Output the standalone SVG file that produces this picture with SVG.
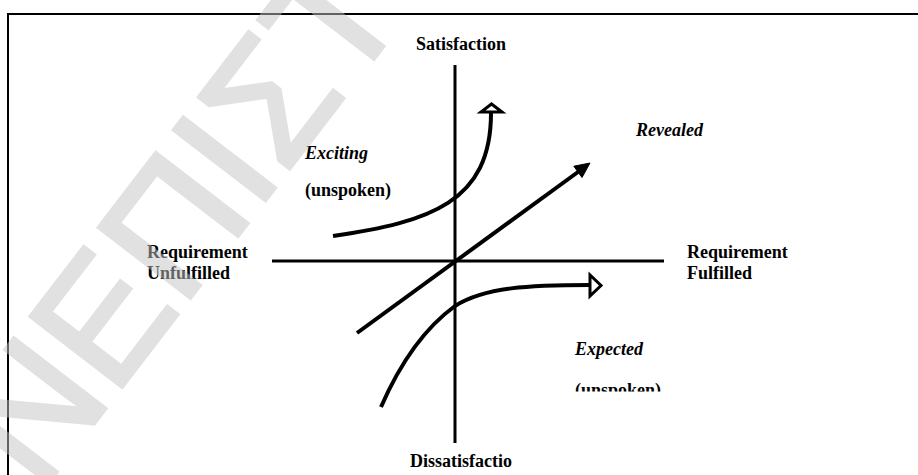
<svg xmlns="http://www.w3.org/2000/svg" width="918" height="475" viewBox="0 0 918 475">
<style>
.lbl{font-family:"Liberation Serif","Times New Roman",serif;font-size:18px;font-weight:bold;fill:#000}
.it{font-style:italic}
.axis{stroke:#000;stroke-width:3;fill:none}
.curve{stroke:#000;stroke-width:4;fill:none}
.openhead{fill:#fff;stroke:#000;stroke-width:3;stroke-linejoin:miter}
.wm{font-family:"Liberation Sans",Arial,sans-serif;font-size:168px;fill:#c4c4c4;stroke:#c4c4c4;stroke-width:4;stroke-linejoin:miter}
</style>
<defs>
<clipPath id="clipExp"><rect x="0" y="0" width="918" height="391.5"/></clipPath>
</defs>
<rect id="frame" x="8" y="14" width="930" height="480" fill="#fff" stroke="#000" stroke-width="2"/>
<g id="axes">
<line class="axis" x1="455" y1="65" x2="455" y2="443"/>
<line class="axis" x1="272" y1="261" x2="664" y2="261"/>
</g>
<g id="connectors">
<path id="exciting-curve" class="curve" d="M333,236 C430,222 491,202 491,113"/>
<polygon class="openhead" points="491.5,104 481,112 502,112"/>
<line id="revealed-line" class="curve" x1="357" y1="333" x2="578" y2="172"/>
<polygon points="590,163 582,177.5 573.8,166.2" fill="#000" stroke="#000" stroke-width="1"/>
<path id="expected-curve" class="curve" d="M381,407 C398,368 422,330 455,306 C485,287 530,285 590,285"/>
<polygon class="openhead" points="590,275 590,296 601,285.5"/>
</g>
<g id="label-satisfaction"><text class="lbl" x="461" y="50" text-anchor="middle">Satisfaction</text></g>
<g id="label-dissatisfaction"><text class="lbl" x="461" y="467" text-anchor="middle">Dissatisfactio</text></g>
<g id="label-unfulfilled"><text class="lbl" x="147" y="258">Requirement</text><text class="lbl" x="147" y="279">Unfulfilled</text></g>
<g id="label-fulfilled"><text class="lbl" x="687" y="258">Requirement</text><text class="lbl" x="687" y="279">Fulfilled</text></g>
<g id="label-exciting"><text class="lbl it" x="305" y="159">Exciting</text><text class="lbl" x="305" y="196">(unspoken)</text></g>
<g id="label-revealed"><text class="lbl it" x="636" y="136">Revealed</text></g>
<g id="label-expected"><text class="lbl it" x="575" y="355">Expected</text><text class="lbl" x="575" y="396" clip-path="url(#clipExp)">(unspoken)</text></g>
<g id="watermark" opacity="0.5"><text class="wm" transform="translate(40,494) rotate(-52.5)">ΝΕΠΙΣΤ</text></g>
</svg>
